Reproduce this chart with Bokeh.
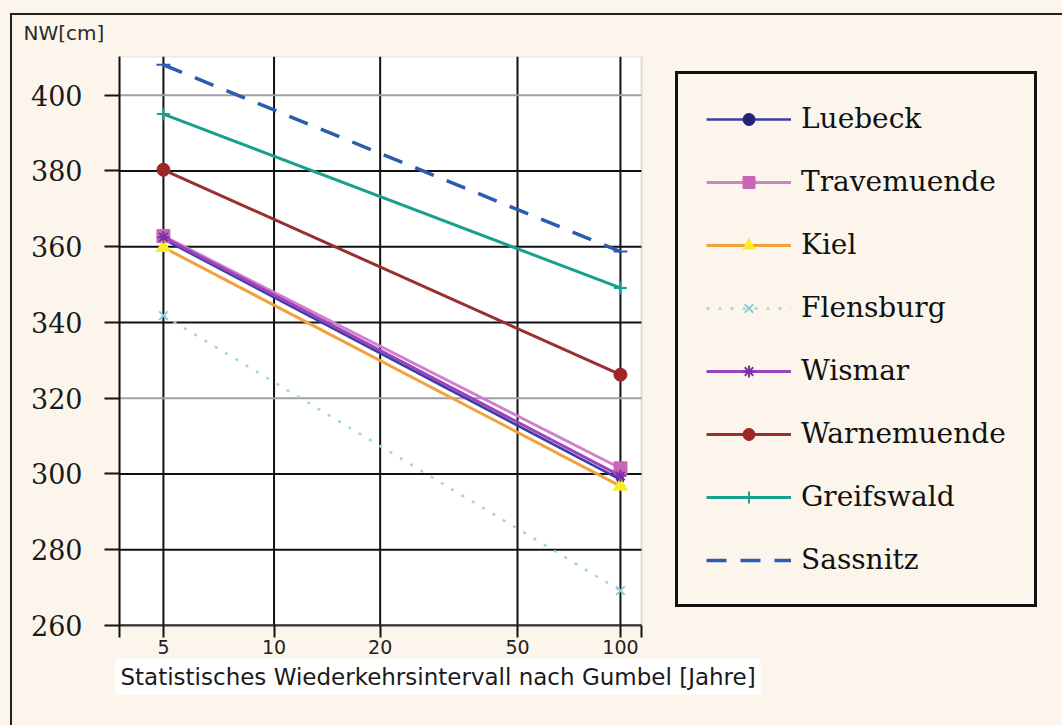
import numpy as np
from bokeh.plotting import figure
from bokeh.models import (Range1d, FixedTicker, Legend, LegendItem, BoxAnnotation,
                          Title)
from bokeh.embed import file_html
from bokeh.resources import INLINE

# ---------------- data ----------------
return_periods = [5, 100]                      # Jahre
tick_periods = [5, 10, 20, 50, 100]
tick_labels = ["5", "10", "20", "50", "100"]
y_ticks = [260, 280, 300, 320, 340, 360, 380, 400]

stations = ["Luebeck", "Travemuende", "Kiel", "Flensburg", "Wismar",
            "Warnemuende", "Greifswald", "Sassnitz"]
luebeck = [362.0, 298.5]
travemuende = [362.8, 301.5]
kiel = [359.8, 296.8]
flensburg = [341.8, 269.2]
wismar = [362.5, 299.5]
warnemuende = [380.3, 326.2]
greifswald = [395.0, 349.1]
sassnitz = [408.0, 358.7]
series = [luebeck, travemuende, kiel, flensburg, wismar, warnemuende,
          greifswald, sassnitz]


def gumbel(T):
    """Gumbel reduced variate of a return period (axis transform)."""
    T = np.asarray(T, dtype=float)
    return -np.log(-np.log(1.0 - 1.0 / T))


# ---------------- styles ----------------
styles = {
    "Luebeck":     dict(color="#3c3ca6", width=2.5, dash="solid", marker="circle",
                        size=7, fill="#23237a", mline="#23237a"),
    "Travemuende": dict(color="#d27fcf", width=3, dash="solid", marker="square",
                        size=13, fill="#c867b8", mline="#c867b8"),
    "Kiel":        dict(color="#f2a23c", width=3, dash="solid", marker="triangle",
                        size=14, fill="#f4ee2c", mline="#f4ee2c"),
    "Flensburg":   dict(color="#9ed6de", width=2.5, dash="3 9", marker="x",
                        size=12, fill="#9ed6de", mline="#8ccbd6"),
    "Wismar":      dict(color="#9a45bd", width=3, dash="solid", marker="asterisk",
                        size=12, fill="#7a30a8", mline="#7a30a8"),
    "Warnemuende": dict(color="#9a2f2f", width=3, dash="solid", marker="circle",
                        size=13, fill="#9e2626", mline="#9e2626"),
    "Greifswald":  dict(color="#17a08e", width=3, dash="solid", marker="cross",
                        size=13, fill="#17a08e", mline="#17a08e"),
    "Sassnitz":    dict(color="#2c5cae", width=3.5, dash="20 14", marker="dash",
                        size=14, fill="#2c5cae", mline="#2c5cae"),
}

CREAM = "#fcf5ec"
W, H = 1062, 725
left_b, right_b, top_b, bottom_b = 119, 10, 56, 100
plot_w = 522                      # width of the white chart area in px
frame_w = W - left_b - right_b

x_lo, x_hi = 1.202, 4.743         # gumbel extent of the chart area
y_lo, y_hi = 260, 410.2
x_frame_hi = x_lo + (x_hi - x_lo) * frame_w / plot_w

p = figure(width=W, height=H,
           x_range=Range1d(x_lo, x_frame_hi), y_range=Range1d(y_lo, y_hi),
           output_backend="svg", toolbar_location=None,
           min_border_left=left_b, min_border_right=right_b,
           min_border_top=top_b, min_border_bottom=bottom_b)

p.background_fill_color = CREAM
# border area transparent: the page colour and the thin outer frame lines
# (left and top edge of the scanned chart) come from the host element style
p.border_fill_alpha = 0
p.styles = {
    "background-color": CREAM,
    "background-image": "linear-gradient(#222222, #222222), linear-gradient(#222222, #222222)",
    "background-size": "2px 100%, 100% 2px",
    "background-position": "10px 13px, 10px 13px",
    "background-repeat": "no-repeat",
}
p.outline_line_color = None
p.grid.visible = False

# white chart area with grey frame
p.add_layout(BoxAnnotation(left=x_lo, right=x_hi, bottom=y_lo, top=y_hi,
                           fill_color="white", fill_alpha=1,
                           line_color="#9a9a9a", line_width=2, level="image"))

# title used as the y-unit caption
p.title.text = "NW[cm]"
p.title.align = "left"
p.title.offset = -96
p.title.text_font = "DejaVu Sans"
p.title.text_font_size = "20px"
p.title.text_font_style = "normal"
p.title.text_color = "#2a2a2a"
p.title.standoff = 23

# x-axis caption, placed below the axis, left aligned
xcap = Title(text="Statistisches Wiederkehrsintervall nach Gumbel [Jahre]",
             align="left", offset=-4, text_font="DejaVu Sans",
             text_font_size="23px", text_font_style="normal",
             text_color="#1a1a1a", standoff=0,
             background_fill_color="white", background_fill_alpha=1)
if hasattr(xcap, "padding"):
    xcap.padding = 5
p.add_layout(xcap, "below")

# ---------------- axes ----------------
xt = [float(v) for v in gumbel(tick_periods)]
p.xaxis.bounds = (x_lo, x_hi)
p.xaxis.ticker = FixedTicker(ticks=[x_lo] + xt + [x_hi])
overrides = {v: lab for v, lab in zip(xt, tick_labels)}
overrides[x_lo] = ""
overrides[x_hi] = ""
p.xaxis.major_label_overrides = overrides
p.xaxis.major_tick_out = 12
p.xaxis.major_tick_in = 0
p.xaxis.major_tick_line_color = "#111111"
p.xaxis.major_tick_line_width = 2
p.xaxis.minor_tick_line_color = None
p.xaxis.axis_line_color = "#333333"
p.xaxis.axis_line_width = 2
p.xaxis.major_label_standoff = 2
p.xaxis.major_label_text_font = "DejaVu Sans"
p.xaxis.major_label_text_font_size = "19px"
p.xaxis.major_label_text_color = "#222222"

p.yaxis.ticker = FixedTicker(ticks=y_ticks)
p.yaxis.major_tick_out = 15
p.yaxis.major_tick_in = 0
p.yaxis.major_tick_line_color = "#111111"
p.yaxis.major_tick_line_width = 2
p.yaxis.minor_tick_line_color = None
p.yaxis.axis_line_color = "#111111"
p.yaxis.axis_line_width = 2
p.yaxis.major_label_standoff = 22
p.yaxis.major_label_text_font = "DejaVu Serif"
p.yaxis.major_label_text_font_size = "27px"
p.yaxis.major_label_text_color = "#1a1a1a"

# ---------------- grid (limited to the chart area) ----------------
p.segment(x0=xt, x1=xt, y0=[y_lo] * len(xt), y1=[y_hi] * len(xt),
          line_color="#111111", line_width=2, level="underlay")
grey_rows = [400, 320]
h_colors = ["#a0a0a0" if v in grey_rows else "#111111" for v in y_ticks]
p.segment(x0=[x_lo] * len(y_ticks), x1=[x_hi] * len(y_ticks),
          y0=y_ticks, y1=y_ticks, line_color=h_colors, line_width=2,
          level="underlay")

# ---------------- series ----------------
xs = gumbel(return_periods)
items = []
for name, vals in zip(stations, series):
    st = styles[name]
    lr = p.line(xs, vals, line_color=st["color"], line_width=st["width"],
                line_dash=st["dash"])
    sr = p.scatter(xs, vals, marker=st["marker"], size=st["size"],
                   fill_color=st["fill"], line_color=st["mline"],
                   line_width=2 if st["marker"] in ("x", "asterisk", "cross", "dash") else 1)
    items.append(LegendItem(label=name, renderers=[lr, sr]))

legend = Legend(items=items, location=(556, 18), orientation="vertical",
                glyph_width=85, glyph_height=30, label_height=30, spacing=30,
                padding=28, margin=0, label_standoff=10,
                border_line_color="#111111", border_line_width=3,
                border_line_alpha=1,
                background_fill_color=CREAM, background_fill_alpha=1,
                label_text_font="DejaVu Serif", label_text_font_size="28px",
                label_text_color="#111111")
p.add_layout(legend)

open("out.html", "w").write(file_html(p, INLINE))
